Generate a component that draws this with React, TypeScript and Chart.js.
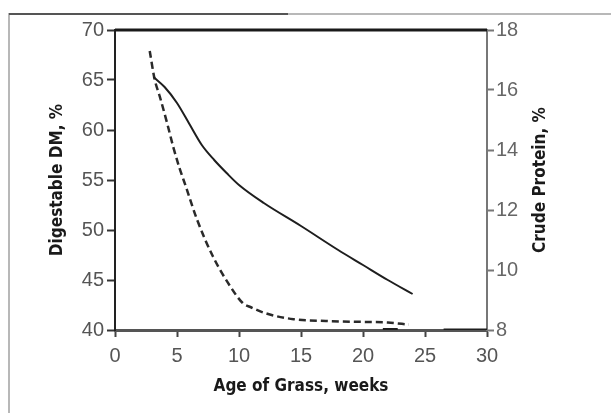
import React, { useEffect, useRef } from "react";
import { Chart, registerables } from "chart.js";

Chart.register(...registerables);

// Age of grass (weeks) vs digestible DM (%) – left axis
const dmWeeks = [3.1, 4, 5, 6, 7, 8, 9, 10, 12, 15, 18, 20, 22, 24];
const dmValues = [65.3, 64.3, 62.7, 60.6, 58.5, 57.0, 55.7, 54.5, 52.7, 50.4, 48.0, 46.5, 45.0, 43.6];

// Age of grass (weeks) vs crude protein (%) – right axis
const cpWeeks = [2.8, 3.2, 3.6, 4.2, 4.7, 5.2, 5.7, 6.6, 7.9, 9.3, 10.3, 11, 12.2, 14.4, 17, 20, 22, 23.7];
const cpValues = [17.3, 16.35, 15.8, 14.9, 14.1, 13.4, 12.8, 11.7, 10.45, 9.45, 8.9, 8.75, 8.55, 8.36, 8.3, 8.27, 8.25, 8.18];

// short segments lying on the baseline (crude protein 8 %)
const baseWeeks = [21.6, 22.8, 24.5, 26.5, 30];
const baseValues: (number | null)[] = [8.02, 8.02, null, 8, 8];

const xTicksMin = 0, xTicksMax = 30, xStep = 5;
const leftMin = 40, leftMax = 70, leftStep = 5;
const rightMin = 8, rightMax = 18, rightStep = 2;

const xTitle = "Age of Grass, weeks";
const leftTitle = "Digestable DM, %";
const rightTitle = "Crude Protein, %";

const titleFamily = "'DejaVu Sans Condensed', 'Liberation Sans Narrow', 'DejaVu Sans', sans-serif";
const titleFont = { family: titleFamily, size: 17, weight: "bold" as const, lineHeight: 1.2 };
const tickFont = { family: "'Liberation Sans', Arial, sans-serif", size: 20 };

const framePlugin = {
  id: "frame",
  beforeDraw(chart: any) {
    const { ctx } = chart;
    ctx.save();
    ctx.strokeStyle = "#b8b8b8";
    ctx.lineWidth = 2;
    ctx.beginPath();
    ctx.moveTo(9, 413);
    ctx.lineTo(9, 14);
    ctx.lineTo(611, 14);
    ctx.stroke();
    ctx.strokeStyle = "#555";
    ctx.lineWidth = 2;
    ctx.beginPath();
    ctx.moveTo(9, 14);
    ctx.lineTo(288, 14);
    ctx.stroke();
    ctx.restore();
  },
  afterDraw(chart: any) {
    const { ctx, chartArea } = chart;
    ctx.save();
    ctx.strokeStyle = "#1a1a1a";
    ctx.lineWidth = 3;
    ctx.beginPath();
    ctx.moveTo(chartArea.left, chartArea.top);
    ctx.lineTo(chartArea.right, chartArea.top);
    ctx.stroke();
    // right axis title, reading bottom-to-top like the left one
    const sc = chart.scales.y1;
    ctx.translate(sc.left + 54, (chartArea.top + chartArea.bottom) / 2);
    ctx.rotate(-Math.PI / 2);
    ctx.fillStyle = "#1a1a1a";
    ctx.font = `bold ${titleFont.size}px ${titleFamily}`;
    ctx.textAlign = "center";
    ctx.textBaseline = "middle";
    ctx.fillText(rightTitle, 0, 0);
    ctx.restore();
  },
};

export default function App() {
  const ref = useRef<HTMLCanvasElement>(null);
  useEffect(() => {
    document.body.style.margin = "0";
    const chart = new Chart(ref.current!, {
      type: "line",
      data: {
        datasets: [
          {
            label: "Digestible DM",
            data: dmWeeks.map((w, i) => ({ x: w, y: dmValues[i] })),
            yAxisID: "y",
            borderColor: "#1e1e1e",
            borderWidth: 2,
            pointRadius: 0,
            cubicInterpolationMode: "monotone",
            fill: false,
          },
          {
            label: "Crude Protein",
            data: cpWeeks.map((w, i) => ({ x: w, y: cpValues[i] })),
            yAxisID: "y1",
            borderColor: "#2a2a2a",
            borderWidth: 2.5,
            borderDash: [7, 4],
            pointRadius: 0,
            cubicInterpolationMode: "monotone",
            fill: false,
          },
          {
            label: "Baseline",
            data: baseWeeks.map((w, i) => ({ x: w, y: baseValues[i] as any })),
            yAxisID: "y1",
            borderColor: "#1e1e1e",
            borderWidth: 3,
            pointRadius: 0,
            spanGaps: false,
            fill: false,
          },
        ],
      },
      options: {
        animation: false,
        responsive: false,
        devicePixelRatio: 1,
        layout: { padding: { top: 30, left: 0, right: 0, bottom: 0 } },
        plugins: { legend: { display: false }, tooltip: { enabled: false } },
        scales: {
          x: {
            type: "linear",
            min: xTicksMin,
            max: xTicksMax,
            position: "bottom",
            afterFit: (s: any) => { s.height = 83; },
            ticks: { stepSize: xStep, color: "#555", font: tickFont, padding: 7, maxRotation: 0 },
            grid: { drawOnChartArea: false, drawTicks: true, tickLength: 7, tickColor: "#444", tickWidth: 2 },
            border: { display: true, color: "#555", width: 3 },
            title: { display: true, text: xTitle, color: "#1a1a1a", font: titleFont, padding: { top: 0, bottom: 16 } },
          },
          y: {
            type: "linear",
            position: "left",
            min: leftMin,
            max: leftMax,
            afterFit: (s: any) => { s.width = 115; },
            ticks: { stepSize: leftStep, color: "#555", font: tickFont, padding: 3 },
            grid: { drawOnChartArea: false, drawTicks: true, tickLength: 8, tickColor: "#333", tickWidth: 2 },
            border: { display: true, color: "#222", width: 2 },
            title: { display: true, text: leftTitle, color: "#1a1a1a", font: titleFont, padding: { top: 47, bottom: 0 } },
          },
          y1: {
            type: "linear",
            position: "right",
            min: rightMin,
            max: rightMax,
            afterFit: (s: any) => { s.width = 124; },
            ticks: { stepSize: rightStep, color: "#666", font: tickFont, padding: 2 },
            grid: { drawOnChartArea: false, drawTicks: true, tickLength: 7, tickColor: "#777", tickWidth: 2 },
            border: { display: true, color: "#777", width: 2 },
            title: { display: false, text: rightTitle },
          },
        },
      },
      plugins: [framePlugin],
    });
    return () => chart.destroy();
  }, []);
  return <canvas ref={ref} width={611} height={413} style={{ display: "block" }} />;
}
